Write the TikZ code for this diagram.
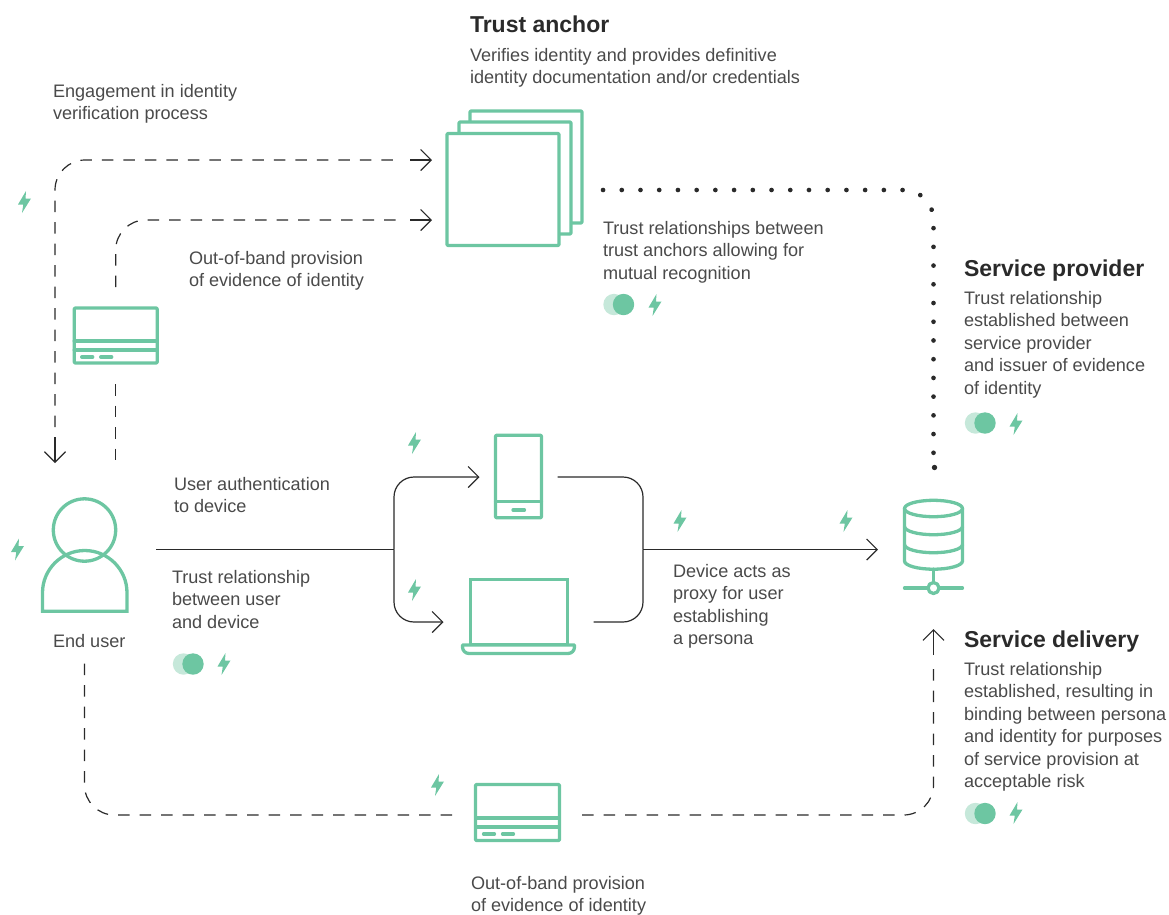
\documentclass[tikz,border=0pt]{standalone}
\usepackage{fontspec}
\setmainfont{Liberation Sans}
\usetikzlibrary{arrows.meta,calc}
\definecolor{grn}{HTML}{6DC6A2}
\definecolor{grnl}{HTML}{C6E8DA}
\definecolor{ink}{HTML}{4A4A4A}
\definecolor{inkd}{HTML}{2A2A2A}
\tikzset{
  x=1pt,y=-1pt,
  icon/.style={draw=grn,line width=3.3pt,line join=round,line cap=round,fill=none},
  box/.style={rectangle,inner sep=0pt,outer sep=0pt},
  iconbox/.style={box,icon,rounded corners=1pt},
  barb/.tip={Straight Barb[length=10.5pt,width=21pt,line width=1.2pt]},
  wire/.style={draw=inkd,line width=1.2pt,rounded corners=20pt},
  stubwire/.style={draw=inkd,line width=1.2pt},
  dashwire/.style={draw=inkd,line width=1.2pt,dash pattern=on 11.5pt off 10pt,rounded corners=30pt},
  dotwire/.style={draw=inkd,line width=4.6pt,line cap=round,dash pattern=on 0.1pt off 18.62pt,rounded corners=30pt},
  txt/.style={anchor=north west,inner sep=0pt,outer sep=0pt,yshift=-0.7pt,align=left,text=ink,font=\fontsize{18.1}{22.5}\selectfont},
  head/.style={anchor=north west,inner sep=0pt,outer sep=0pt,align=left,text=inkd,font=\fontsize{23}{26}\selectfont\bfseries},
  bolt/.pic={\fill[grn] (1.5,-11) -- (-6.5,2.5) -- (-1.2,2.5) -- (-2.5,11) -- (6.5,-3.5) -- (1,-3.5) -- cycle;},
  toggle/.pic={\fill[grnl] (-9.5,0) circle[radius=10.7];\fill[grn] (0,0) circle[radius=10.7];},
  carddetail/.pic={
    \draw[icon] (-41.5,5.5) -- (41.5,5.5);
    \draw[icon] (-41.5,14.5) -- (41.5,14.5);
    \draw[icon] (-34,21.5) -- (-23,21.5);
    \draw[icon] (-15,21.5) -- (-4,21.5);
  },
}
\begin{document}
\begin{tikzpicture}
\useasboundingbox (0,0) rectangle (1169,914);
% icons
\node[iconbox,fill=white,minimum width=112pt,minimum height=112pt] (stackc) at (526,167) {};
\node[iconbox,fill=white,minimum width=112pt,minimum height=112pt] (stackb) at (515,178) {};
\node[iconbox,fill=white,minimum width=112pt,minimum height=112pt] (stack) at (503,189.5) {};
\node[iconbox,minimum width=83pt,minimum height=55pt] (cardA) at (115.7,335.5) {};
\pic at (cardA.center) {carddetail};
\node[iconbox,minimum width=84pt,minimum height=56pt] (cardB) at (517.5,812.5) {};
\pic at (cardB.center) {carddetail};
\node[box,minimum width=88pt,minimum height=116pt] (user) at (84.5,555) {};
\draw[icon] (84.5,530) circle[radius=31.2];
\draw[icon,line cap=butt,line join=miter] (42.5,611.2) -- (42.5,592.75) arc[start angle=180,end angle=360,radius=42.25] -- (127,611.2) -- cycle;
\node[iconbox,minimum width=46pt,minimum height=82.5pt] (phone) at (518.5,476.5) {};
\draw[icon] (phone.west |- 0,501.7) -- (phone.east |- 0,501.7);
\draw[icon] (513,510) -- (524.5,510);
\node[iconbox,line join=miter,rounded corners=0pt,minimum width=97pt,minimum height=65pt] (laptop) at (519,612) {};
\draw[icon] (462.5,645) -- (574.5,645) -- (574.5,647) arc[start angle=0,end angle=90,radius=6.5] -- (469,653.5) arc[start angle=90,end angle=180,radius=6.5] -- cycle;
\node[box,minimum width=61pt,minimum height=96pt] (server) at (933.5,546) {};
\draw[icon] (933.5,508.5) ellipse[x radius=29,y radius=8.2];
\draw[icon] (904.5,508.5) -- (904.5,561) arc[start angle=180,end angle=0,x radius=29,y radius=8.2] -- (962.5,508.5);
\draw[icon] (904.5,526.5) arc[start angle=180,end angle=0,x radius=29,y radius=8.2];
\draw[icon] (904.5,544.5) arc[start angle=180,end angle=0,x radius=29,y radius=8.2];
\draw[icon] (933.5,569) -- (933.5,582);
\draw[icon] (904.5,588) -- (962.5,588);
\draw[icon,fill=white] (933.5,588) circle[radius=5.5];
% junctions and free ends
\coordinate (engEnd) at ($(user.north)+(-29.5,-34)$);
\coordinate (engEndS) at ($(engEnd)+(0,-26)$);
\coordinate (engEndD) at ($(engEnd)+(0,-36)$);
\coordinate (engTip) at ($(stack.west)+(-15,-29.5)$);
\coordinate (engTipS) at ($(engTip)+(-22,0)$);
\coordinate (engTipD) at ($(engTip)+(-31,0)$);
\coordinate (oobA) at ($(user.north)+(31.2,-34)$);
\coordinate (oobB) at ($(cardA.south)+(0,21)$);
\coordinate (oobC) at ($(cardA.north)+(0,-21)$);
\coordinate (oobTip) at ($(stack.west)+(-15,30.5)$);
\coordinate (oobTipS) at ($(oobTip)+(-22,0)$);
\coordinate (oobTipD) at ($(oobTip)+(-31,0)$);
\coordinate (uStart) at ($(user.east)+(27.5,-5.5)$);
\coordinate (splitL) at (394,549.5);
\coordinate (splitR) at (643,549.5);
\coordinate (phoneTip) at ($(phone.west)+(-16,0.5)$);
\coordinate (phoneOut) at ($(phone.east)+(16,0.5)$);
\coordinate (lapTip) at ($(laptop.west)+(-27,10)$);
\coordinate (lapOut) at ($(laptop.east)+(26,10)$);
\coordinate (srvTip) at ($(server.west)+(-25,3.5)$);
\coordinate (dotA) at ($(stackc.east)+(21,23)$);
\coordinate (dotB) at ($(server.north)+(0,-32)$);
\coordinate (dotC) at ($(server.north)+(1,-30.5)$);
\coordinate (delA) at ($(user.south)+(0,47)$);
\coordinate (delB) at ($(cardB.west)+(-23.5,2.5)$);
\coordinate (delC) at ($(cardB.east)+(22.5,2.5)$);
\coordinate (delTip) at ($(server.south)+(0,35)$);
\coordinate (delTipS) at ($(delTip)+(0,26)$);
\coordinate (delTipD) at ($(delTip)+(0,35)$);
% connectors
\draw[dashwire] (engEndD) -- (engEnd |- engTip) -- (engTipD);
\draw[stubwire,-{barb}] (engEndS) -- (engEnd);
\draw[stubwire,-{barb}] (engTipS) -- (engTip);
\draw[dashwire] (oobC) -- (oobC |- oobTip) -- (oobTipD);
\draw[stubwire,-{barb}] (oobTipS) -- (oobTip);
\draw[dashwire] (oobB) -- (oobA);
\draw[wire] (uStart) -- (splitL);
\draw[wire,-{barb}] (splitL) -- (splitL |- phoneTip) -- (phoneTip);
\draw[wire,-{barb}] (splitL) -- (splitL |- lapTip) -- (lapTip);
\draw[wire] (phoneOut) -- (splitR |- phoneOut) -- (splitR);
\draw[wire] (lapOut) -- (splitR |- lapOut) -- (splitR);
\draw[wire,-{barb}] (splitR) -- (srvTip);
\draw[dotwire] (dotA) -- (dotB |- dotA) -- (dotB);
\fill[inkd] (dotC) circle[radius=2.7];
\draw[dashwire] (delB) -- (delA |- delB) -- (delA);
\draw[dashwire] (delC) -- (delTip |- delC) -- (delTipD);
\draw[stubwire,-{barb}] (delTipS) -- (delTip);
% bolts
\pic at (24.5,202) {bolt};
\pic at (414.5,443) {bolt};
\pic at (414.5,590) {bolt};
\pic at (680,521) {bolt};
\pic at (846,521) {bolt};
\pic at (17.5,549.5) {bolt};
\pic at (437.5,785) {bolt};
\pic at (224,664) {bolt};
\pic at (655,305) {bolt};
\pic at (1016,424) {bolt};
\pic at (1016,813) {bolt};
% toggles
\pic at (193,664) {toggle};
\pic at (623.5,304.5) {toggle};
\pic at (985,423) {toggle};
\pic at (985,813.5) {toggle};
% text
\node[head] (tAnchorH) at (470,14) {\strut Trust anchor};
\node[txt] (tAnchor) at (470,45) {\strut Verifies identity and provides definitive\\identity documentation and/or credentials};
\node[txt] (tEng) at (53,81) {\strut Engagement in identity\\verification process};
\node[txt] (tOobA) at (189,248) {\strut Out-of-band provision\\of evidence of identity};
\node[txt] (tRel) at (603,218) {\strut Trust relationships between\\trust anchors allowing for\\mutual recognition};
\node[head] (tProvH) at (964,258.5) {\strut Service provider};
\node[txt] (tProv) at (964,288) {\strut Trust relationship\\established between\\service provider\\and issuer of evidence\\of identity};
\node[txt] (tAuth) at (174,474) {\strut User authentication\\to device};
\node[txt] (tUD) at (172,567) {\strut Trust relationship\\between user\\and device};
\node[txt] (tUser) at (53,631) {\strut End user};
\node[txt] (tProxy) at (673,561) {\strut Device acts as\\proxy for user\\establishing\\a persona};
\node[head] (tDelH) at (964,629.5) {\strut Service delivery};
\node[txt] (tDel) at (964,659) {\strut Trust relationship\\established, resulting in\\binding between persona\\and identity for purposes\\of service provision at\\acceptable risk};
\node[txt] (tOobB) at (471,873) {\strut Out-of-band provision\\of evidence of identity};
\end{tikzpicture}
\end{document}
